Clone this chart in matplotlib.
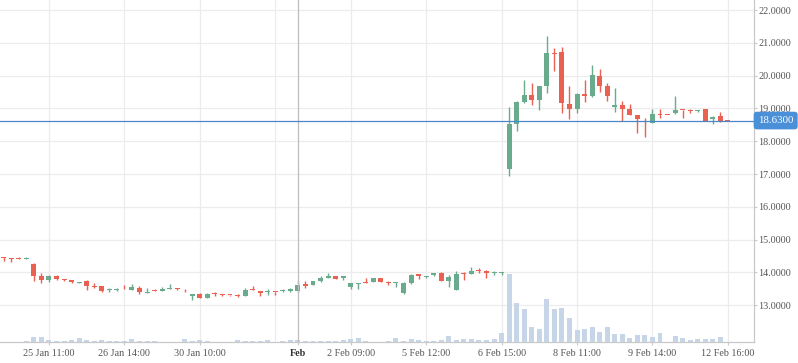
import matplotlib
matplotlib.use("Agg")
import matplotlib.pyplot as plt
from matplotlib.transforms import blended_transform_factory

# ---------------- data ----------------
opens = [14.48, 14.41, 14.41, 14.40, 14.26, 13.89, 13.77, 13.89, 13.80, 13.77,
         13.69, 13.74, 13.57, 13.59, 13.46, 13.47, 13.49, 13.47, 13.52, 13.38,
         13.43, 13.44, 13.50, 13.52, 13.49, 13.29, 13.34, 13.23, 13.35, 13.32,
         13.31, 13.29, 13.29, 13.50, 13.42, 13.39, 13.41, 13.42, 13.42, 13.42,
         13.66, 13.62, 13.75, 13.84, 13.89, 13.82, 13.56, 13.65, 13.69, 13.70,
         13.82, 13.68, 13.69, 13.36, 13.69, 13.94, 13.86, 13.92, 13.99, 13.75,
         13.46, 13.96, 13.94, 14.05, 14.04, 13.97, 13.99, 17.14, 18.52, 19.20,
         19.41, 19.27, 19.69, 20.69, 20.72, 19.13, 18.99, 19.44, 19.39, 19.99,
         19.68, 19.05, 19.10, 18.97, 18.80, 18.60, 18.55, 18.81, 18.80, 18.85,
         18.96, 18.94, 18.92, 18.97, 18.67, 18.77, 18.64]
highs = [14.48, 14.44, 14.48, 14.48, 14.30, 13.97, 13.92, 13.92, 13.80, 13.77,
         13.72, 13.77, 13.67, 13.59, 13.52, 13.52, 13.63, 13.65, 13.59, 13.52,
         13.48, 13.55, 13.65, 13.52, 13.49, 13.34, 13.36, 13.36, 13.40, 13.33,
         13.31, 13.33, 13.52, 13.58, 13.42, 13.50, 13.41, 13.49, 13.53, 13.75,
         13.74, 13.74, 13.88, 13.97, 13.90, 13.89, 13.69, 13.69, 13.82, 13.84,
         13.84, 13.75, 13.70, 13.70, 13.95, 13.94, 13.89, 13.97, 14.02, 13.92,
         14.05, 14.02, 14.16, 14.12, 14.06, 14.03, 14.00, 19.03, 19.23, 19.87,
         19.78, 19.68, 21.21, 20.83, 20.88, 19.68, 19.48, 19.87, 20.32, 20.20,
         19.78, 19.61, 19.23, 19.13, 18.80, 18.70, 18.98, 18.98, 18.81, 19.38,
         18.96, 18.98, 18.96, 18.97, 18.78, 18.90, 18.64]
lows = [14.35, 14.33, 14.40, 14.40, 13.74, 13.69, 13.72, 13.77, 13.74, 13.68,
        13.68, 13.46, 13.53, 13.40, 13.41, 13.44, 13.48, 13.47, 13.35, 13.38,
        13.42, 13.44, 13.50, 13.47, 13.40, 13.16, 13.22, 13.22, 13.29, 13.28,
        13.27, 13.25, 13.27, 13.45, 13.27, 13.31, 13.31, 13.39, 13.39, 13.39,
        13.54, 13.62, 13.72, 13.82, 13.80, 13.77, 13.49, 13.51, 13.68, 13.70,
        13.70, 13.62, 13.56, 13.33, 13.66, 13.79, 13.84, 13.88, 13.75, 13.56,
        13.46, 13.77, 13.94, 13.99, 13.84, 13.92, 13.93, 16.95, 18.32, 19.17,
        19.10, 18.95, 19.48, 20.15, 18.87, 18.69, 18.85, 19.20, 19.36, 19.51,
        19.23, 18.90, 18.62, 18.81, 18.26, 18.12, 18.55, 18.70, 18.79, 18.83,
        18.70, 18.85, 18.89, 18.63, 18.52, 18.58, 18.62]
closes = [14.43, 14.40, 14.40, 14.41, 13.90, 13.77, 13.90, 13.81, 13.78, 13.71,
          13.70, 13.60, 13.56, 13.44, 13.47, 13.48, 13.48, 13.55, 13.40, 13.39,
          13.42, 13.51, 13.51, 13.51, 13.48, 13.34, 13.23, 13.34, 13.33, 13.31,
          13.30, 13.28, 13.46, 13.45, 13.36, 13.40, 13.40, 13.43, 13.50, 13.62,
          13.59, 13.74, 13.84, 13.89, 13.80, 13.89, 13.69, 13.67, 13.68, 13.82,
          13.70, 13.67, 13.70, 13.67, 13.92, 13.90, 13.87, 13.97, 13.75, 13.85,
          13.95, 13.95, 14.04, 14.04, 13.97, 13.98, 14.00, 18.52, 19.20, 19.41,
          19.27, 19.68, 20.70, 20.67, 19.16, 18.99, 19.44, 19.39, 20.02, 19.69,
          19.39, 19.10, 18.98, 18.81, 18.67, 18.58, 18.83, 18.80, 18.79, 18.95,
          18.94, 18.92, 18.93, 18.63, 18.73, 18.62, 18.63]
volumes = [700, 700, 700, 1300, 5700, 5700, 2700, 1700, 1700, 2700,
           4700, 2700, 1700, 2700, 1700, 1700, 1700, 3700, 1700, 1700,
           1700, 700, 700, 700, 3700, 1700, 2700, 1700, 700, 700,
           700, 2700, 1700, 1700, 1700, 2700, 700, 1700, 2700, 2700,
           1700, 1700, 1700, 1700, 1700, 2700, 3700, 4700, 1700, 700,
           700, 1700, 4700, 1700, 3700, 2700, 1700, 1700, 2700, 6700,
           2700, 3700, 3700, 2700, 2700, 3300, 9300, 68700, 39700, 33300,
           15300, 13300, 43300, 33300, 34300, 24300, 12300, 13300, 15300, 10300,
           15300, 8300, 8300, 4300, 7300, 7300, 5300, 9300, 0, 6300,
           4300, 2300, 3300, 3300, 3300, 5300, 0]

tick_idx = [6, 16, 26, 39, 46, 56, 66, 76, 86, 96]
tick_labels = ["25 Jan 11:00", "26 Jan 14:00", "30 Jan 10:00", "Feb",
               "2 Feb 09:00", "5 Feb 12:00", "6 Feb 15:00", "8 Feb 11:00",
               "9 Feb 14:00", "12 Feb 16:00"]
grid_idx = [6, 16, 26, 36, 46, 56, 66, 76, 86, 96]
price_ticks = [13, 14, 15, 16, 17, 18, 19, 20, 21, 22]
last_price = 18.63
cross_idx = 39

# ---------------- style ----------------
UP = "#6aab8e"
DOWN = "#ea6051"
VOL = "#c6d6e8"
GRID = "#ececec"
FONT = "Liberation Serif"
FS = 7.3

W, H = 798, 363
fig = plt.figure(figsize=(W / 100, H / 100), dpi=100)
bottom = (H - 342.3) / H
rect = [0, bottom, 754 / W, 1 - bottom]

ax_vol = fig.add_axes(rect)
ax = fig.add_axes(rect, sharex=ax_vol)
ax.patch.set_visible(False)

n = len(opens)
xs = list(range(n))
xlim = (-0.49, 99.46)
ylim = (11.87, 22.305)

# ---- background layer: grid + volume ----
for s in ax_vol.spines.values():
    s.set_visible(False)
ax_vol.tick_params(left=False, labelleft=False, bottom=False, labelbottom=False)
hgrid_tr = blended_transform_factory(ax_vol.transAxes, ax.transData)
for p in price_ticks:
    ax_vol.plot([0, 1], [p, p], transform=hgrid_tr, color=GRID, lw=0.9, zorder=0)
for g in grid_idx:
    ax_vol.axvline(g, color=GRID, lw=0.9, zorder=0)
ax_vol.bar(xs, volumes, width=0.66, color=VOL, zorder=2)
ax_vol.set_ylim(0, max(volumes) * 4.98)

# ---- candles ----
colors = [UP if c >= o else DOWN for o, c in zip(opens, closes)]
ax.vlines(xs, lows, highs, colors=colors, lw=1.0, zorder=3)
bottoms = [min(o, c) for o, c in zip(opens, closes)]
heights = [max(abs(c - o), 0.03) for o, c in zip(opens, closes)]
ax.bar(xs, heights, bottom=bottoms, width=0.66, color=colors, zorder=4)

# crosshair
ax.axvline(cross_idx, color="#bdbdbd", lw=0.9, zorder=5)
ax.axhline(last_price, color="#4a86c8", lw=0.9, zorder=5)

ax.set_xlim(*xlim)
ax.set_ylim(*ylim)

# axes styling
for side in ("top", "left"):
    ax.spines[side].set_visible(False)
for side in ("right", "bottom"):
    ax.spines[side].set_color("#c8c8c8")
    ax.spines[side].set_linewidth(0.9)

ax.yaxis.tick_right()
ax.set_yticks(price_ticks)
ax.set_yticklabels(["%.4f" % p for p in price_ticks])
ax.tick_params(axis="y", length=2.2, width=0.8, color="#c8c8c8", pad=1,
               labelsize=FS, labelcolor="#555555")
ax.set_xticks(tick_idx)
ax.set_xticklabels(tick_labels)
ax.tick_params(axis="x", length=2.2, width=0.8, color="#c8c8c8", pad=2.5,
               labelsize=FS, labelcolor="#555555")
for lab in ax.get_xticklabels() + ax.get_yticklabels():
    lab.set_fontfamily(FONT)
for lab, t in zip(ax.get_xticklabels(), tick_labels):
    if t == "Feb":
        lab.set_fontweight("bold")
        lab.set_color("#333333")

# last price label box
lbl_tr = blended_transform_factory(ax.transAxes, ax.transData)
ax.annotate("%.4f" % last_price, xy=(1, last_price), xycoords=lbl_tr,
            xytext=(4, 0), textcoords="offset pixels", ha="left", va="center",
            color="white", fontsize=FS + 0.5, fontfamily=FONT,
            bbox=dict(boxstyle="round,pad=0.4,rounding_size=0.3",
                      fc="#4a90d9", ec="none"),
            annotation_clip=False, zorder=10)

fig.savefig("out.png", dpi=100)
